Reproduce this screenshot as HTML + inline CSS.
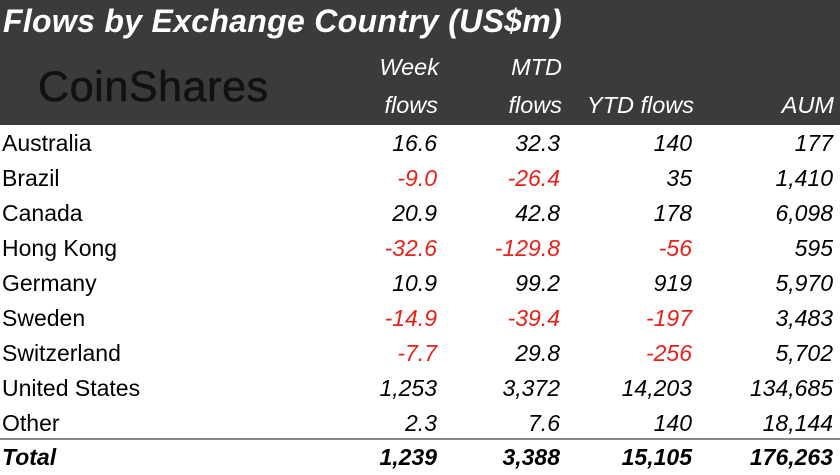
<!DOCTYPE html>
<html><head><style>
body{margin:0;width:840px;height:472px;background:#fff;font-family:"Liberation Sans",sans-serif;overflow:hidden;position:relative}
.hd{position:absolute;left:0;top:0;width:840px;height:125px;background:#3b3b3b}
.t{position:absolute;left:3px;top:3px;color:#fff;font-size:32px;font-style:italic;font-weight:bold;letter-spacing:0.3px}
.logo{position:absolute;left:38px;top:63px;font-size:43px;color:#111;letter-spacing:0.6px;font-weight:500;-webkit-text-stroke:0.6px #111}
.h{position:absolute;color:#fff;font-style:italic;font-size:23.5px;text-align:right;line-height:26px}
.r{position:absolute;left:0;width:840px;height:35px;font-size:23px;line-height:35px}
.r span{position:absolute;text-align:right;font-style:italic}
.r .n{left:2px;font-style:normal;text-align:left}
.a{right:403px}.b{right:280px}.c{right:148px}.d{right:7px}
.neg{color:#e8201a}
.tot{font-weight:bold}
.line{position:absolute;left:0;top:438px;width:840px;height:2px;background:#888}
</style></head><body>
<div class="hd"></div>
<div class="t">Flows by Exchange Country (US$m)</div>
<div class="logo">CoinShares</div>
<div class="h" style="right:401px;top:54px">Week</div>
<div class="h" style="right:402px;top:92px">flows</div>
<div class="h" style="right:278px;top:54px">MTD</div>
<div class="h" style="right:278px;top:92px">flows</div>
<div class="h" style="right:146px;top:92px">YTD flows</div>
<div class="h" style="right:6px;top:92px">AUM</div>

<div class="r" style="top:126px"><span class="n">Australia</span><span class="a">16.6</span><span class="b">32.3</span><span class="c">140</span><span class="d">177</span></div>
<div class="r" style="top:161px"><span class="n">Brazil</span><span class="a neg">-9.0</span><span class="b neg">-26.4</span><span class="c">35</span><span class="d">1,410</span></div>
<div class="r" style="top:196px"><span class="n">Canada</span><span class="a">20.9</span><span class="b">42.8</span><span class="c">178</span><span class="d">6,098</span></div>
<div class="r" style="top:231px"><span class="n">Hong Kong</span><span class="a neg">-32.6</span><span class="b neg">-129.8</span><span class="c neg">-56</span><span class="d">595</span></div>
<div class="r" style="top:266px"><span class="n">Germany</span><span class="a">10.9</span><span class="b">99.2</span><span class="c">919</span><span class="d">5,970</span></div>
<div class="r" style="top:301px"><span class="n">Sweden</span><span class="a neg">-14.9</span><span class="b neg">-39.4</span><span class="c neg">-197</span><span class="d">3,483</span></div>
<div class="r" style="top:336px"><span class="n">Switzerland</span><span class="a neg">-7.7</span><span class="b">29.8</span><span class="c neg">-256</span><span class="d">5,702</span></div>
<div class="r" style="top:371px"><span class="n">United States</span><span class="a">1,253</span><span class="b">3,372</span><span class="c">14,203</span><span class="d">134,685</span></div>
<div class="r" style="top:406px"><span class="n">Other</span><span class="a">2.3</span><span class="b">7.6</span><span class="c">140</span><span class="d">18,144</span></div>
<div class="line"></div>
<div class="r tot" style="top:440px"><span class="n" style="font-style:italic">Total</span><span class="a">1,239</span><span class="b">3,388</span><span class="c">15,105</span><span class="d">176,263</span></div>
</body></html>
